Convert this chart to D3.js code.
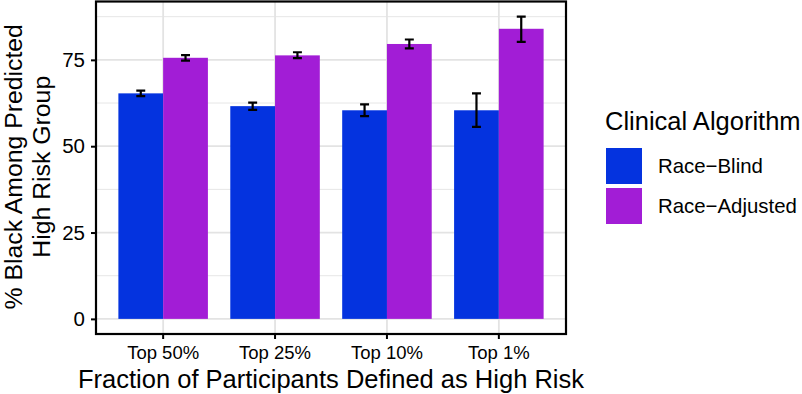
<!DOCTYPE html>
<html>
<head>
<meta charset="utf-8">
<script src="https://cdn.jsdelivr.net/npm/d3@7"></script>
<style>
  body { margin: 0; background: #fff; }
  text { font-family: "Liberation Sans", Arial, Helvetica, sans-serif; fill: #000; }
</style>
</head>
<body>
<script>
var categories = ['Top 50%', 'Top 25%', 'Top 10%', 'Top 1%'];
var groups = ['Race\u2212Blind', 'Race\u2212Adjusted'];
var blindValues = [65.3, 61.6, 60.4, 60.4];
var blindLower = [64.5, 60.5, 58.7, 55.6];
var blindUpper = [66.1, 62.6, 62.1, 65.3];
var adjustedValues = [75.6, 76.3, 79.6, 84.0];
var adjustedLower = [74.8, 75.5, 78.3, 80.2];
var adjustedUpper = [76.4, 77.2, 80.9, 87.5];
var yTicks = [0, 25, 50, 75];
var yMinor = [12.5, 37.5, 62.5, 87.5];
var colors = ['#0433DF', '#A21DD6'];

var data = [];
categories.forEach(function(c, i) {
    data.push({cat: c, group: groups[0], value: blindValues[i], lo: blindLower[i], hi: blindUpper[i]});
    data.push({cat: c, group: groups[1], value: adjustedValues[i], lo: adjustedLower[i], hi: adjustedUpper[i]});
});

var width = 802,
    height = 394,
    panel = { left: 96, right: 566, top: 1.5, bottom: 334 };

var svg = d3.select('body')
    .append('svg')
    .attr('width', width)
    .attr('height', height)

// discrete x with ggplot-like 0.6 expansion on each side
var xPos = d3.scaleLinear()
    .domain([0.4, categories.length + 0.6])
    .range([panel.left, panel.right])
var xScale = d3.scaleBand()
    .domain(categories)
    .range([xPos(0.5), xPos(categories.length + 0.5)])
    .paddingInner(0.2)
    .paddingOuter(0.1)
var xInner = d3.scaleBand()
    .domain(groups)
    .range([0, xScale.bandwidth()])
var yScale = d3.scaleLinear()
    .domain([-4.38, 91.9])
    .range([panel.bottom, panel.top])
var color = d3.scaleOrdinal().domain(groups).range(colors)

var grid = svg.append('g')
grid.selectAll('.minor').data(yMinor).enter().append('line')
    .attr('x1', panel.left).attr('x2', panel.right)
    .attr('y1', d => yScale(d)).attr('y2', d => yScale(d))
    .attr('stroke', '#e6e6e6').attr('stroke-width', 1)
grid.selectAll('.major').data(yTicks).enter().append('line')
    .attr('x1', panel.left).attr('x2', panel.right)
    .attr('y1', d => yScale(d)).attr('y2', d => yScale(d))
    .attr('stroke', '#e3e3e3').attr('stroke-width', 1.8)
grid.selectAll('.vmajor').data(categories).enter().append('line')
    .attr('x1', d => xScale(d) + xScale.bandwidth() / 2)
    .attr('x2', d => xScale(d) + xScale.bandwidth() / 2)
    .attr('y1', panel.top).attr('y2', panel.bottom)
    .attr('stroke', '#e3e3e3').attr('stroke-width', 1.8)

var bars = svg.append('g')
bars.selectAll('rect').data(data).enter().append('rect')
    .attr('x', d => xScale(d.cat) + xInner(d.group))
    .attr('width', xInner.bandwidth())
    .attr('y', d => yScale(d.value))
    .attr('height', d => yScale(0) - yScale(d.value))
    .attr('fill', d => color(d.group))

var capW = xInner.bandwidth() * 0.2;
var err = svg.append('g')
    .attr('stroke', '#000')
    .attr('stroke-width', 2.2)
    .attr('fill', 'none')
err.selectAll('path').data(data).enter().append('path')
    .attr('d', d => {
        var cx = xScale(d.cat) + xInner(d.group) + xInner.bandwidth() / 2;
        var y1 = yScale(d.hi), y2 = yScale(d.lo);
        return `M${cx - capW / 2},${y1}H${cx + capW / 2}M${cx},${y1}V${y2}M${cx - capW / 2},${y2}H${cx + capW / 2}`;
    })

// panel border
svg.append('rect')
    .attr('x', panel.left).attr('y', panel.top)
    .attr('width', panel.right - panel.left)
    .attr('height', panel.bottom - panel.top)
    .attr('fill', 'none')
    .attr('stroke', '#000')
    .attr('stroke-width', 2.2)

var xAxis = d3.axisBottom(xScale)
    .tickSizeInner(5)
    .tickSizeOuter(0)
    .tickPadding(7)
var yAxis = d3.axisLeft(yScale)
    .tickValues(yTicks)
    .tickSizeInner(5)
    .tickSizeOuter(0)
    .tickPadding(6)

var gx = svg.append('g').attr('transform', `translate(0, ${panel.bottom})`).call(xAxis)
gx.select('.domain').remove()
gx.selectAll('line').attr('stroke', '#000').attr('stroke-width', 2)
gx.selectAll('text').attr('font-size', '18.5px').attr('fill', '#000')

var gy = svg.append('g').attr('transform', `translate(${panel.left}, 0)`).call(yAxis)
gy.select('.domain').remove()
gy.selectAll('line').attr('stroke', '#000').attr('stroke-width', 2)
gy.selectAll('text').attr('font-size', '20.5px').attr('fill', '#000')

svg.append('text')
    .attr('x', (panel.left + panel.right) / 2)
    .attr('y', 388)
    .attr('text-anchor', 'middle')
    .attr('font-size', '25.5px')
    .text('Fraction of Participants Defined as High Risk')

var yTitle = svg.append('text')
    .attr('transform', `translate(0, ${(panel.top + panel.bottom) / 2 - 1}) rotate(-90)`)
    .attr('text-anchor', 'middle')
    .attr('font-size', '24.8px')
yTitle.append('tspan').attr('x', 0).attr('y', 22).text('% Black Among Predicted')
yTitle.append('tspan').attr('x', 0).attr('y', 50).text('High Risk Group')

var legend = svg.append('g').attr('transform', 'translate(605, 0)')
legend.append('text')
    .attr('x', 0).attr('y', 130)
    .attr('font-size', '25.5px')
    .text('Clinical Algorithm')
var items = legend.selectAll('.item').data(groups).enter().append('g')
    .attr('transform', (d, i) => `translate(1, ${148 + i * 40})`)
items.append('rect')
    .attr('width', 36).attr('height', 36)
    .attr('fill', d => color(d))
items.append('text')
    .attr('x', 52).attr('y', 18)
    .attr('dy', '0.36em')
    .attr('font-size', '20.4px')
    .text(d => d)
</script>
</body>
</html>
